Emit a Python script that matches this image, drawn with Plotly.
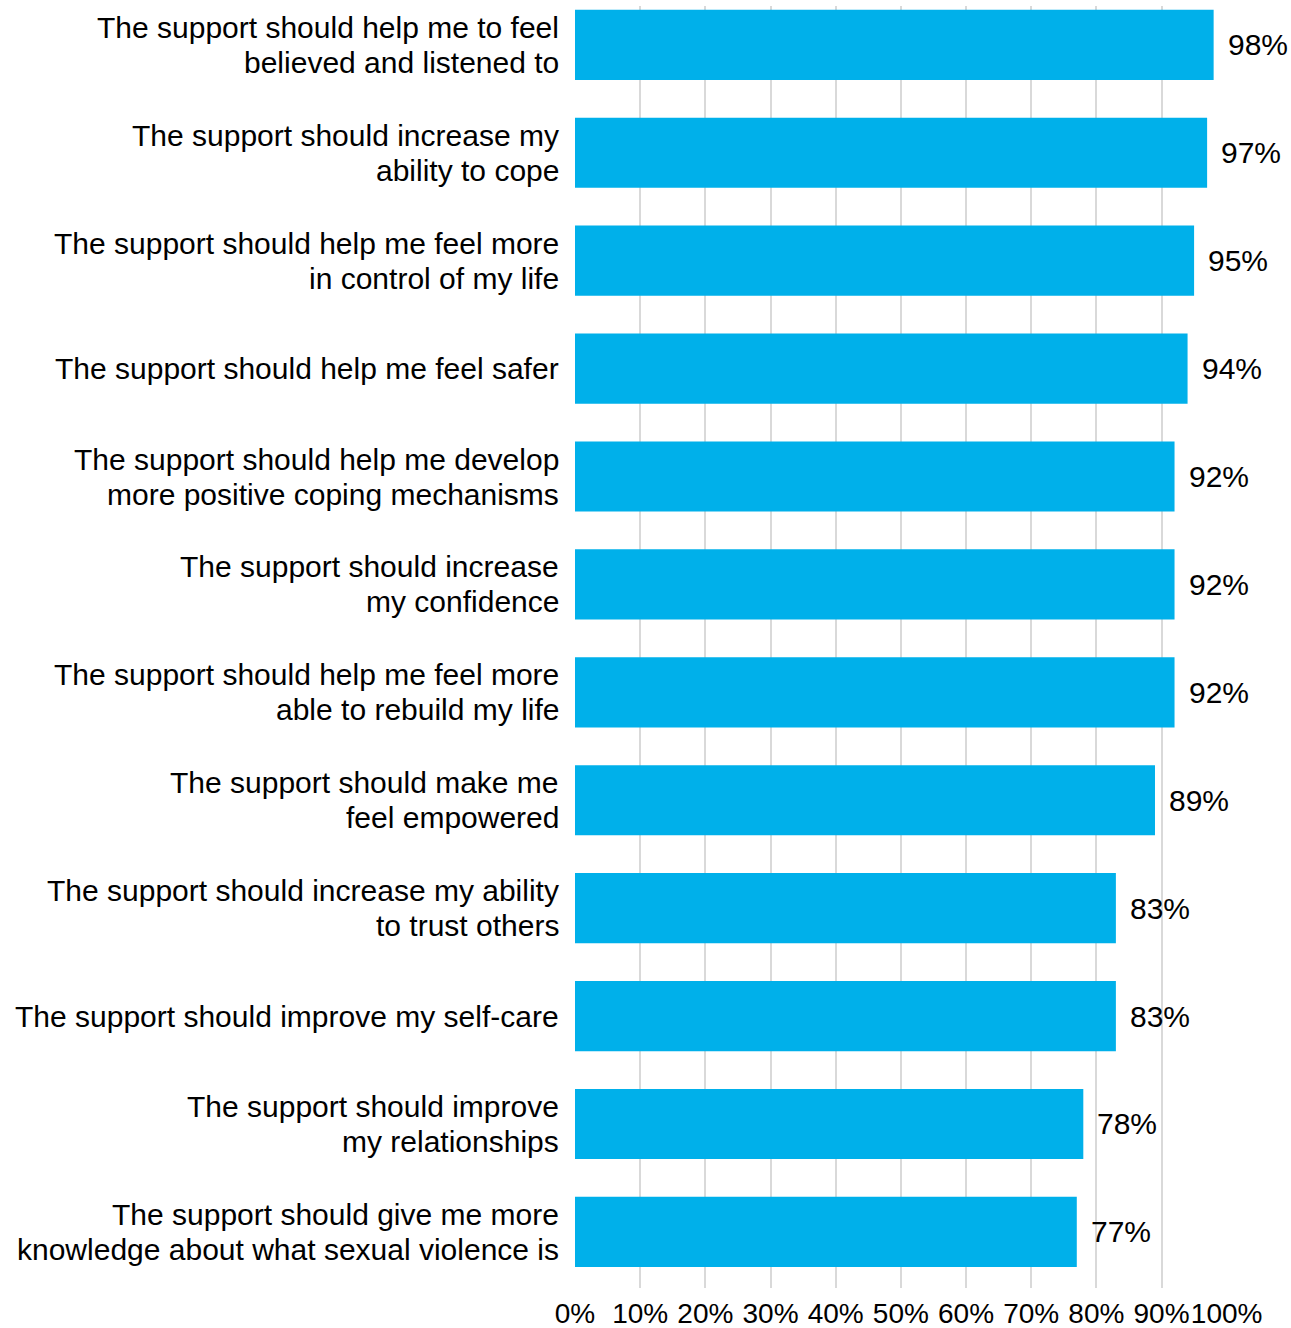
import plotly.graph_objects as go

# Survey statements (top to bottom) and share agreeing
statements = [
    "The support should help me to feel<br>believed and listened to",
    "The support should increase my<br>ability to cope",
    "The support should help me feel more<br>in control of my life",
    "The support should help me feel safer",
    "The support should help me develop<br>more positive coping mechanisms",
    "The support should increase<br>my confidence",
    "The support should help me feel more<br>able to rebuild my life",
    "The support should make me<br>feel empowered",
    "The support should increase my ability<br>to trust others",
    "The support should improve my self-care",
    "The support should improve<br>my relationships",
    "The support should give me more<br>knowledge about what sexual violence is",
]
agree_pct = [98, 97, 95, 94, 92, 92, 92, 89, 83, 83, 78, 77]
x_ticks = [0, 10, 20, 30, 40, 50, 60, 70, 80, 90, 100]
x_tick_labels = [f"{t}%" for t in x_ticks]

FONT = "Liberation Sans, Arial, sans-serif"
BAR_COLOR = "#00B0EA"
LINE_GAP = 35  # px between lines of a wrapped category label

fig = go.Figure(
    go.Bar(
        x=agree_pct,
        y=statements,
        orientation="h",
        marker=dict(color=BAR_COLOR, line=dict(width=0)),
        width=0.65,
        hoverinfo="skip",
    )
)

for s, v in zip(statements, agree_pct):
    # Value label just past the end of each bar
    fig.add_annotation(
        x=v, y=s, text=f"{v}%", showarrow=False,
        xanchor="left", xshift=12,
        font=dict(family=FONT, size=30, color="#000000"),
    )
    # Category label, one right-aligned line at a time for tight spacing
    lines = s.split("<br>")
    n = len(lines)
    for i, line in enumerate(lines):
        fig.add_annotation(
            x=0, y=s, xref="x", yref="y", text=line, showarrow=False,
            xanchor="right", yanchor="middle", align="right",
            xshift=-14, yshift=((n - 1) / 2 - i) * LINE_GAP,
            font=dict(family=FONT, size=30, color="#000000"),
        )

fig.update_layout(
    width=1291,
    height=1328,
    margin=dict(l=575, r=64, t=6, b=40, autoexpand=False),
    paper_bgcolor="white",
    plot_bgcolor="white",
    showlegend=False,
    font=dict(family=FONT, color="#000000"),
)

fig.update_xaxes(
    range=[0, 100.05],
    tickvals=x_ticks,
    ticktext=x_tick_labels,
    tickangle=0,
    automargin=False,
    showgrid=True,
    gridcolor="#D9D9D9",
    gridwidth=1.5,
    zeroline=False,
    showline=False,
    ticks="",
    tickfont=dict(family=FONT, size=28, color="#000000"),
    ticklabelstandoff=6,
    fixedrange=True,
)

fig.update_yaxes(
    type="category",
    categoryorder="array",
    categoryarray=statements,
    range=[11.52, -0.36],
    automargin=False,
    showgrid=False,
    zeroline=False,
    showline=False,
    showticklabels=False,
    ticks="",
    fixedrange=True,
)

fig.write_html("out.html")
